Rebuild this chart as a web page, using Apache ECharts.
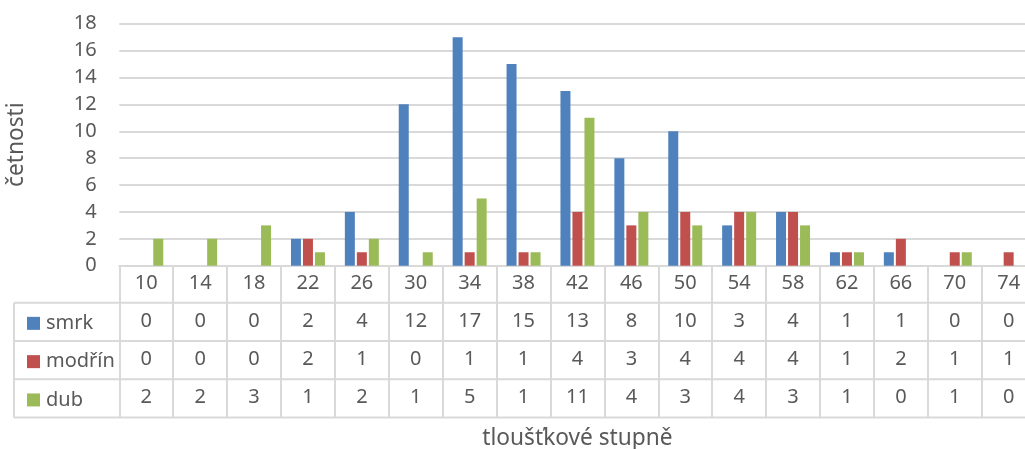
<!DOCTYPE html>
<html>
<head>
<meta charset="utf-8">
<script src="https://cdn.jsdelivr.net/npm/echarts@6/dist/echarts.min.js"></script>
<style>
  html, body { margin: 0; padding: 0; background: #fff; }
  #chart { width: 1025px; height: 449px; }
</style>
</head>
<body>
<div id="chart"></div>
<script>
// Thickness classes (tloušťkové stupně) and counts per tree species
const categories = ['10', '14', '18', '22', '26', '30', '34', '38', '42', '46', '50', '54', '58', '62', '66', '70', '74'];
const smrk   = [0, 0, 0, 2, 4, 12, 17, 15, 13, 8, 10, 3, 4, 1, 1, 0, 0];
const modrin = [0, 0, 0, 2, 1, 0, 1, 1, 4, 3, 4, 4, 4, 1, 2, 1, 1];
const dub    = [2, 2, 3, 1, 2, 1, 5, 1, 11, 4, 3, 4, 3, 1, 0, 1, 0];
const yTicks = { min: 0, max: 18, interval: 2 };

const seriesDefs = [
  { name: 'smrk', data: smrk, color: '#4F81BD' },
  { name: 'modřín', data: modrin, color: '#C0504D' },
  { name: 'dub', data: dub, color: '#9BBB59' }
];

const FONT = '"Noto Sans"';
const TEXT = '#595959';
const LINE = '#d9d9d9';

// plot / table geometry
const G = { left: 119.3, top: 23.7, width: 916.3, height: 242 };
const axisY = G.top + G.height;            // 265.7
const rowH = 38.3;
const headH = 37;
const tableLeft = 14;
const rowLines = [axisY + headH, axisY + headH + rowH, axisY + headH + 2 * rowH, axisY + headH + 3 * rowH];
const tableBottom = rowLines[3];

const chart = echarts.init(document.getElementById('chart'), null, { renderer: 'canvas' });

const labelBase = { fontFamily: FONT, fontSize: 20, color: TEXT };
const titleBase = { fontFamily: FONT, fontSize: 22.7, color: TEXT };

// one extra category axis per data-table row
const rowAxes = seriesDefs.map((s, i) => ({
  type: 'category',
  gridIndex: 0,
  position: 'bottom',
  data: categories,
  offset: headH + rowH * i + 0.4,
  axisLine: { show: false },
  axisTick: { show: false },
  splitLine: { show: false },
  axisLabel: Object.assign({}, labelBase, {
    interval: 0,
    margin: 8,
    formatter: (v, idx) => String(s.data[idx])
  })
}));

const hLines = rowLines.map(y => ({
  type: 'line',
  silent: true,
  shape: { x1: tableLeft, y1: y, x2: G.left + G.width, y2: y },
  style: { stroke: LINE, lineWidth: 2 }
}));

chart.setOption({
  backgroundColor: '#ffffff',
  animation: false,
  textStyle: { fontFamily: FONT },
  grid: {
    left: G.left, top: G.top, width: G.width, height: G.height,
    containLabel: false, outerBoundsMode: 'none'
  },
  legend: {
    orient: 'vertical',
    left: 22,
    top: axisY + headH + rowH / 2 - 13.5,
    itemGap: rowH - 20,
    itemWidth: 13,
    itemHeight: 13,
    icon: 'rect',
    selectedMode: false,
    textStyle: Object.assign({}, labelBase, { padding: [0, 0, 0, 1] }),
    data: seriesDefs.map(s => s.name)
  },
  xAxis: [{
    type: 'category',
    gridIndex: 0,
    data: categories,
    name: 'tloušťkové stupně',
    nameLocation: 'middle',
    nameGap: 161,
    nameTextStyle: titleBase,
    axisLine: { show: true, lineStyle: { color: LINE, width: 2 } },
    axisTick: {
      show: true, interval: 0, length: tableBottom - axisY,
      lineStyle: { color: LINE, width: 2 }
    },
    axisLabel: Object.assign({}, labelBase, { interval: 0, margin: 8 })
  }].concat(rowAxes),
  yAxis: {
    type: 'value',
    min: yTicks.min,
    max: yTicks.max,
    interval: yTicks.interval,
    name: 'četnosti',
    nameLocation: 'middle',
    nameGap: 91,
    nameTextStyle: titleBase,
    axisLine: { show: false },
    axisTick: { show: false },
    axisLabel: Object.assign({}, labelBase, { margin: 22.6 }),
    splitLine: { lineStyle: { color: LINE, width: 2 } }
  },
  series: seriesDefs.map(s => ({
    name: s.name,
    type: 'bar',
    xAxisIndex: 0,
    data: s.data,
    barWidth: 10,
    barGap: '20%',
    itemStyle: { color: s.color },
    emphasis: { disabled: true }
  })),
  graphic: hLines.concat([{
    type: 'line',
    silent: true,
    shape: { x1: tableLeft, y1: rowLines[0], x2: tableLeft, y2: tableBottom },
    style: { stroke: LINE, lineWidth: 2 }
  }])
});
</script>
</body>
</html>
